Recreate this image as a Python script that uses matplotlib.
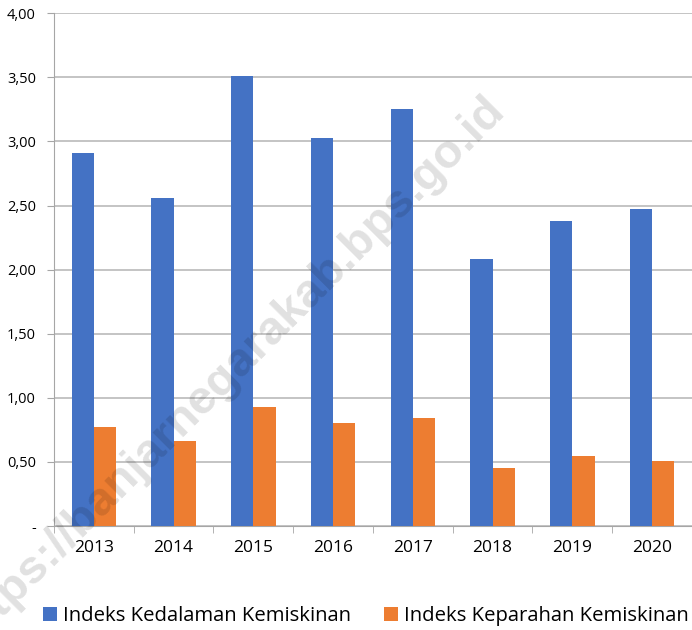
import matplotlib.pyplot as plt
import numpy as np

plt.rcParams['font.family'] = ['Open Sans', 'DejaVu Sans']

# data
tahun = ['2013', '2014', '2015', '2016', '2017', '2018', '2019', '2020']
kedalaman = [2.91, 2.56, 3.51, 3.03, 3.25, 2.08, 2.38, 2.47]
keparahan = [0.77, 0.66, 0.93, 0.80, 0.84, 0.45, 0.55, 0.51]
yticks = [0, 0.5, 1.0, 1.5, 2.0, 2.5, 3.0, 3.5, 4.0]
ylabels = ['-', '0,50', '1,00', '1,50', '2,00', '2,50', '3,00', '3,50', '4,00']

fig = plt.figure(figsize=(6.92, 6.30), dpi=100)
ax = fig.add_axes([0.078, 0.165, 0.922, 0.814])

x = np.arange(len(tahun))
w = 0.28
ax.bar(x - w / 2, kedalaman, w, color='#4472C4', label='Indeks Kedalaman Kemiskinan', zorder=3)
ax.bar(x + w / 2, keparahan, w, color='#ED7D31', label='Indeks Keparahan Kemiskinan', zorder=3)

ax.set_xlim(-0.5, len(tahun) - 0.5)
ax.set_ylim(0, 4)
ax.set_yticks(yticks)
ax.set_yticklabels(ylabels, fontsize=10.5)
ax.set_xticks(x)
ax.set_xticklabels(tahun, fontsize=12.5)
# tanda tick di batas kategori
ax.set_xticks(np.arange(-0.5, len(tahun)), minor=True)
ax.tick_params(axis='x', which='major', length=0, pad=10)
ax.tick_params(axis='x', which='minor', length=5, color='#A6A6A6')
ax.tick_params(axis='y', length=5, color='#A6A6A6', pad=8)

ax.grid(axis='y', color='#BFBFBF', linewidth=1.3, zorder=0)
for s in ['top', 'right']:
    ax.spines[s].set_visible(False)
ax.spines['left'].set_color('#A6A6A6')
ax.spines['bottom'].set_color('#A6A6A6')

ax.legend(loc='center', bbox_to_anchor=(0.489, -0.175), ncol=2, frameon=False,
          fontsize=14.6, handlelength=0.7, handleheight=0.7, handletextpad=0.3,
          columnspacing=1.6)

# watermark
fig.text(0.331, 0.411, 'https://banjarnegarakab.bps.go.id', fontsize=34, fontweight='bold',
         family=['Liberation Sans', 'DejaVu Sans'],
         color='black', alpha=0.12, rotation=45, ha='center', va='center', zorder=10)

fig.savefig('out.png', dpi=100)
